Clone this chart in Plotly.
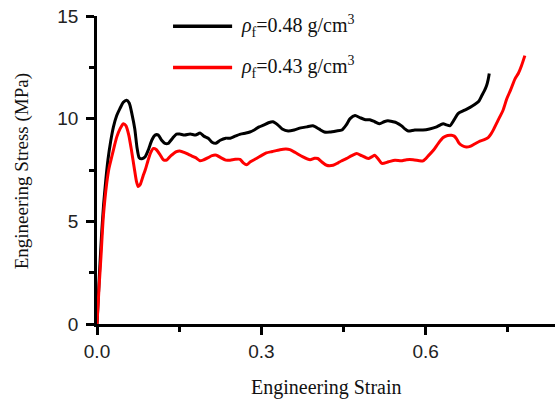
import plotly.graph_objects as go

# ---- data ----
black_strain = [0, 0.004, 0.008, 0.012, 0.016, 0.02, 0.025, 0.03, 0.036, 0.042, 0.048, 0.054, 0.059, 0.064,
                0.069, 0.073, 0.077, 0.082, 0.088, 0.094, 0.1, 0.106, 0.112, 0.118, 0.124, 0.13, 0.138, 0.145,
                0.151, 0.16, 0.17, 0.18, 0.188, 0.195, 0.203, 0.21, 0.217, 0.225, 0.235, 0.243, 0.252, 0.262,
                0.272, 0.279, 0.287, 0.296, 0.305, 0.313, 0.321, 0.33, 0.338, 0.349, 0.36, 0.372, 0.383, 0.394,
                0.405, 0.415, 0.425, 0.437, 0.447, 0.455, 0.462, 0.471, 0.48, 0.49, 0.498, 0.507, 0.516, 0.524,
                0.531, 0.54, 0.547, 0.556, 0.562, 0.568, 0.58, 0.595, 0.607, 0.62, 0.627, 0.632, 0.638, 0.644,
                0.652, 0.659, 0.67, 0.681, 0.69, 0.697, 0.702, 0.707, 0.711, 0.714, 0.716]
black_stress = [0, 2.2, 4.2, 5.8, 7.0, 8.0, 8.9, 9.6, 10.15, 10.5, 10.8, 10.9, 10.75, 10.2,
                9.5, 8.6, 8.1, 8.05, 8.15, 8.5, 8.95, 9.2, 9.2, 8.95, 8.8, 8.8, 9.05, 9.25,
                9.25, 9.2, 9.25, 9.2, 9.3, 9.15, 9.05, 8.85, 8.8, 8.95, 9.05, 9.05, 9.15, 9.25,
                9.3, 9.35, 9.45, 9.6, 9.7, 9.8, 9.85, 9.7, 9.5, 9.4, 9.45, 9.55, 9.6, 9.65,
                9.5, 9.35, 9.35, 9.4, 9.45, 9.7, 10.0, 10.15, 10.05, 9.95, 9.95, 9.85, 9.75, 9.85,
                9.9, 9.85, 9.8, 9.65, 9.5, 9.4, 9.45, 9.45, 9.5, 9.6, 9.7, 9.75, 9.7, 9.65,
                9.95, 10.25, 10.4, 10.55, 10.7, 10.85, 11.1, 11.35, 11.6, 11.9, 12.2]

red_strain = [0, 0.004, 0.0073, 0.0115, 0.0177, 0.022, 0.027, 0.032, 0.036, 0.042, 0.048, 0.053, 0.058, 0.063,
              0.068, 0.072, 0.075, 0.079, 0.084, 0.088, 0.093, 0.098, 0.103, 0.108, 0.115, 0.121, 0.127, 0.135,
              0.145, 0.151, 0.16, 0.17, 0.18, 0.188, 0.195, 0.203, 0.21, 0.218, 0.226, 0.235, 0.243, 0.252,
              0.261, 0.267, 0.273, 0.28, 0.291, 0.3, 0.309, 0.32, 0.334, 0.345, 0.352, 0.362, 0.375, 0.389,
              0.397, 0.403, 0.41, 0.419, 0.431, 0.44, 0.446, 0.455, 0.465, 0.474, 0.483, 0.495, 0.502, 0.507,
              0.513, 0.52, 0.532, 0.544, 0.555, 0.565, 0.577, 0.588, 0.595, 0.605, 0.614, 0.623, 0.632, 0.64,
              0.647, 0.652, 0.656, 0.661, 0.667, 0.674, 0.681, 0.69, 0.699, 0.707, 0.714, 0.719, 0.723, 0.732,
              0.741, 0.748, 0.755, 0.763, 0.769, 0.775, 0.781]
red_stress = [0, 1.9, 3.3, 5.2, 6.85, 7.6, 8.15, 8.7, 9.1, 9.5, 9.75, 9.65, 9.2, 8.45,
              7.6, 6.95, 6.7, 6.8, 7.2, 7.5, 7.95, 8.35, 8.55, 8.5, 8.25, 8.0, 7.98, 8.2,
              8.4, 8.43, 8.35, 8.22, 8.1, 7.95, 8.0, 8.1, 8.2, 8.22, 8.1, 7.98, 7.98, 8.02,
              8.02, 7.85, 7.75, 7.9, 8.06, 8.2, 8.33, 8.4, 8.49, 8.52, 8.49, 8.35, 8.15, 8.0,
              8.07, 8.06, 7.9, 7.73, 7.73, 7.85, 7.94, 8.05, 8.2, 8.3, 8.2, 8.06, 8.15, 8.22,
              8.05, 7.82, 7.9, 7.98, 7.95, 8.0, 8.0, 7.95, 7.94, 8.2, 8.46, 8.8, 9.08, 9.18,
              9.19, 9.15, 9.03, 8.8, 8.68, 8.62, 8.65, 8.78, 8.91, 8.98, 9.08, 9.25, 9.43, 9.92,
              10.4, 10.97, 11.4, 11.94, 12.2, 12.59, 13.07]

series_names = ["<i>ρ</i><sub>f</sub>=0.48 g/cm<sup>3</sup>", "<i>ρ</i><sub>f</sub>=0.43 g/cm<sup>3</sup>"]
series_colors = ["#000000", "#ff0000"]

x_ticks = [0.0, 0.3, 0.6]
x_tick_labels = ["0.0", "0.3", "0.6"]
y_ticks = [0, 5, 10, 15]
y_tick_labels = ["0", "5", "10", "15"]
x_title = "Engineering Strain"
y_title = "Engineering Stress (MPa)"

fig = go.Figure()
for xs, ys, name, col in [(black_strain, black_stress, series_names[0], series_colors[0]),
                          (red_strain, red_stress, series_names[1], series_colors[1])]:
    fig.add_trace(go.Scatter(x=xs, y=ys, mode="lines", name=name,
                             line=dict(color=col, width=3, shape="spline", smoothing=0.6),
                             showlegend=False))

# manual legend (lines + text) in paper coordinates
legend_rows = [0.967, 0.833]
for yy, name, col in zip(legend_rows, series_names, series_colors):
    fig.add_shape(type="line", xref="paper", yref="paper", x0=0.166, x1=0.295, y0=yy, y1=yy,
                  line=dict(color=col, width=3.5))
    fig.add_annotation(xref="paper", yref="paper", x=0.31, y=yy, text=name, showarrow=False,
                       xanchor="left", yanchor="middle",
                       font=dict(family="Liberation Serif", size=20, color="#111"))

# axis titles
fig.add_annotation(xref="paper", yref="paper", x=0.502, y=-0.205, text=x_title, showarrow=False,
                   xanchor="center", yanchor="middle",
                   font=dict(family="Liberation Serif", size=20, color="#111"))
fig.add_annotation(xref="paper", yref="paper", x=-0.163, y=0.497, text=y_title, showarrow=False,
                   textangle=-90, xanchor="center", yanchor="middle",
                   font=dict(family="Liberation Serif", size=19, color="#111"))

axis_common = dict(showline=True, linecolor="black", linewidth=2.5, ticks="outside",
                   ticklen=8, tickwidth=2.5, tickcolor="black", showgrid=False, zeroline=False,
                   automargin=False,
                   tickfont=dict(family="Liberation Sans", size=19, color="#222"))

fig.update_xaxes(range=[0, 0.836], tickvals=x_ticks, ticktext=x_tick_labels,
                 minor=dict(ticks="outside", ticklen=5, tickwidth=2.5, tickcolor="black", dtick=0.15, tick0=0),
                 **axis_common)
fig.update_yaxes(range=[0, 15], tickvals=y_ticks, ticktext=y_tick_labels,
                 minor=dict(ticks="outside", ticklen=5, tickwidth=2.5, tickcolor="black", dtick=2.5, tick0=0),
                 ticklabelstandoff=4,
                 **axis_common)

fig.update_layout(width=555, height=401, margin=dict(l=97, r=0, t=16, b=77),
                  plot_bgcolor="white", paper_bgcolor="white")

fig.write_html("out.html", config={"displayModeBar": False},
               post_script="document.body.style.margin='0';document.body.style.overflow='hidden';")
